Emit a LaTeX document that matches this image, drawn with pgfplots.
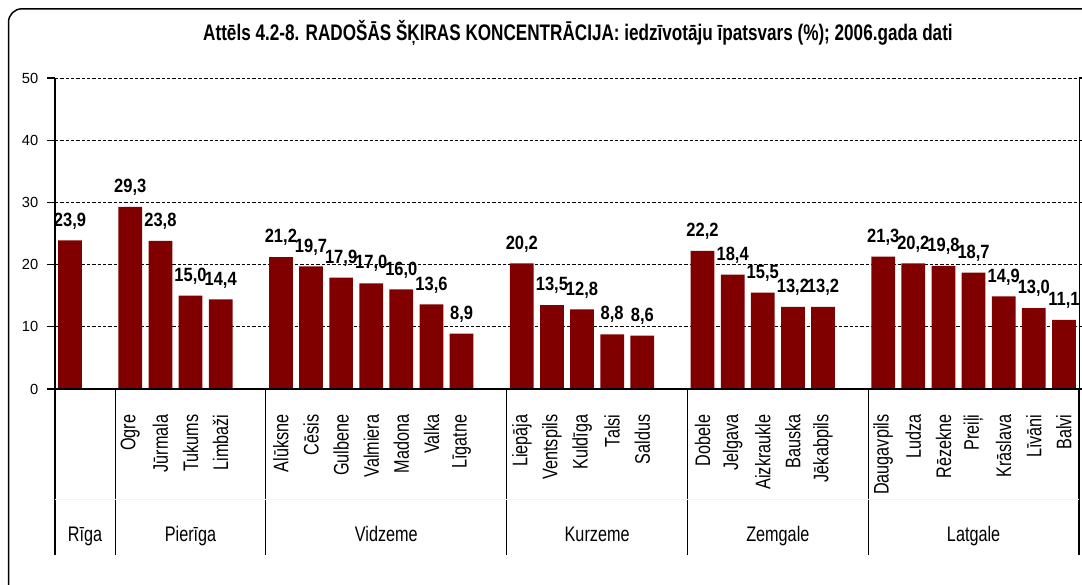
\documentclass[border=0pt]{standalone}
\usepackage{fontspec}
\setmainfont{Liberation Sans}
\newfontfamily\narrowfont{Liberation Sans}[FakeStretch=0.77]
\newfontfamily\titlefont{Liberation Sans}[FakeStretch=0.76]
\newfontfamily\lblfont{Liberation Sans}[FakeStretch=0.86]
\usepackage{pgfplots}
\usepackage{pgfplotstable}
\pgfplotsset{compat=1.18}
\definecolor{barred}{HTML}{800000}

\pgfplotstableread{
x y
0 23.9
2 29.3
3 23.8
4 15.0
5 14.4
7 21.2
8 19.7
9 17.9
10 17.0
11 16.0
12 13.6
13 8.9
15 20.2
16 13.5
17 12.8
18 8.8
19 8.6
21 22.2
22 18.4
23 15.5
24 13.2
25 13.2
27 21.3
28 20.2
29 19.8
30 18.7
31 14.9
32 13.0
33 11.1
}\datatable

\begin{document}
\begin{tikzpicture}
\useasboundingbox (0,0) rectangle (811.5pt,-438.75pt);
\draw[line width=1.1pt, rounded corners=10pt] (6.4pt,-6.6pt) rectangle (830pt,-450pt);
\node[font=\titlefont\bfseries\fontsize{16.9}{19}\selectfont] at (433.5pt,-24.75pt) {Attēls 4.2-8. RADOŠĀS ŠĶIRAS KONCENTRĀCIJA: iedzīvotāju īpatsvars (\%); 2006.gada dati};
\begin{axis}[
  at={(41.25pt,-291.75pt)}, anchor=south west,
  scale only axis, width=768pt, height=233.25pt,
  xmin=-0.5, xmax=33.5, ymin=0, ymax=50,
  ytick={0,10,20,30,40,50},
  xtick=data,
  xticklabels={{},Ogre,Jūrmala,Tukums,Limbaži,Alūksne,Cēsis,Gulbene,Valmiera,Madona,Valka,Līgatne,Liepāja,Ventspils,Kuldīga,Talsi,Saldus,Dobele,Jelgava,Aizkraukle,Bauska,Jēkabpils,Daugavpils,Ludza,Rēzekne,Preiļi,Krāslava,Līvāni,Balvi},
  xticklabel style={rotate=90, anchor=east, font=\narrowfont\fontsize{15.8}{17}\selectfont, inner sep=0pt},
  xticklabel shift=13pt,
  x tick style={draw=none},
  y tick style={black, line width=0.8pt},
  tick align=outside,
  major tick length=6pt,
  yticklabel style={font=\fontsize{11}{12}\selectfont, xshift=-3pt},
  /pgf/number format/assume math mode=true,
  ymajorgrids,
  grid style={black, line width=0.7pt, dash pattern=on 2.4pt off 1.6pt},
  axis x line*=bottom, axis y line*=box,
  axis line style={black, line width=0.7pt},
  clip=false,
  nodes near coords,
  nodes near coords style={font=\lblfont\bfseries\fontsize{14.4}{16}\selectfont, anchor=south, inner sep=0pt, yshift=8.3pt,
    /pgf/number format/.cd, fixed, fixed zerofill, precision=1, use comma},
]
\addplot[ybar, bar width=17.8pt, fill=barred, draw=none] table[x=x,y=y] {\datatable};
% thicker left and bottom axis lines
\draw[black, line width=1.5pt] (rel axis cs:0,0) -- (rel axis cs:0,1);
\draw[black, line width=1.5pt] (rel axis cs:0,0) -- (rel axis cs:1,0);
% group separators
\draw[black, line width=1pt] (axis cs:-0.5,0) -- ([yshift=-124.5pt]axis cs:-0.5,0);
\draw[black, line width=1pt] (axis cs:1.5,0) -- ([yshift=-124.5pt]axis cs:1.5,0);
\draw[black, line width=1pt] (axis cs:6.5,0) -- ([yshift=-124.5pt]axis cs:6.5,0);
\draw[black, line width=1pt] (axis cs:14.5,0) -- ([yshift=-124.5pt]axis cs:14.5,0);
\draw[black, line width=1pt] (axis cs:20.5,0) -- ([yshift=-124.5pt]axis cs:20.5,0);
\draw[black, line width=1pt] (axis cs:26.5,0) -- ([yshift=-124.5pt]axis cs:26.5,0);
\draw[black, line width=1pt] (axis cs:33.5,0) -- ([yshift=-124.5pt]axis cs:33.5,0);
\draw[gray!10, line width=0.5pt] ([yshift=-83pt]axis cs:-0.5,0) -- ([yshift=-83pt]axis cs:33.5,0);
% group labels
\node[anchor=base, font=\narrowfont\fontsize{15.8}{17}\selectfont] at ([yshift=-114.5pt]axis cs:0.5,0) {Rīga};
\node[anchor=base, font=\narrowfont\fontsize{15.8}{17}\selectfont] at ([yshift=-114.5pt]axis cs:4,0) {Pierīga};
\node[anchor=base, font=\narrowfont\fontsize{15.8}{17}\selectfont] at ([yshift=-114.5pt]axis cs:10.5,0) {Vidzeme};
\node[anchor=base, font=\narrowfont\fontsize{15.8}{17}\selectfont] at ([yshift=-114.5pt]axis cs:17.5,0) {Kurzeme};
\node[anchor=base, font=\narrowfont\fontsize{15.8}{17}\selectfont] at ([yshift=-114.5pt]axis cs:23.5,0) {Zemgale};
\node[anchor=base, font=\narrowfont\fontsize{15.8}{17}\selectfont] at ([yshift=-114.5pt]axis cs:30,0) {Latgale};
\end{axis}
\end{tikzpicture}
\end{document}
